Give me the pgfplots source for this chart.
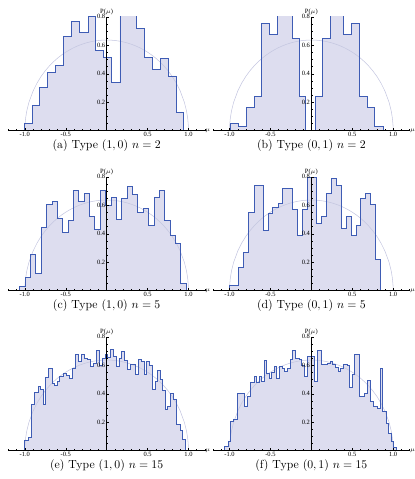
\documentclass[border=0pt]{standalone}
\usepackage{fontspec}
\usepackage{pgfplots}
\pgfplotsset{compat=1.18}
\usepackage{pgfplotstable}
\newfontfamily\tickfont{Liberation Serif}
\definecolor{histfill}{RGB}{221,221,239}
\definecolor{histline}{RGB}{62,92,180}
\definecolor{semic}{RGB}{196,198,224}

% Wigner semicircle
\pgfplotstableread{
x y
-1.0 0
-0.998 0.0402
-0.99 0.0898
-0.975 0.1415
-0.95 0.1988
-0.9 0.2775
-0.85 0.3354
-0.8 0.3820
-0.75 0.4211
-0.7 0.4546
-0.65 0.4838
-0.6 0.5093
-0.55 0.5317
-0.5 0.5513
-0.45 0.5685
-0.4 0.5835
-0.35 0.5964
-0.3 0.6073
-0.25 0.6164
-0.2 0.6238
-0.15 0.6294
-0.1 0.6334
-0.05 0.6358
0 0.6366
0.05 0.6358
0.1 0.6334
0.15 0.6294
0.2 0.6238
0.25 0.6164
0.3 0.6073
0.35 0.5964
0.4 0.5835
0.45 0.5685
0.5 0.5513
0.55 0.5317
0.6 0.5093
0.65 0.4838
0.7 0.4546
0.75 0.4211
0.8 0.3820
0.85 0.3354
0.9 0.2775
0.95 0.1988
0.975 0.1415
0.99 0.0898
0.998 0.0402
1.0 0
}\semi

% (a) Type (1,0) n=2
\pgfplotstableread{
x y
-1.0 0
-1.0 0.051
-0.910 0.178
-0.816 0.304
-0.722 0.407
-0.624 0.458
-0.531 0.664
-0.429 0.767
-0.327 0.690
-0.224 0.800
-0.135 0.566
-0.033 0.512
0.061 0.337
0.163 0.850
0.265 0.850
0.359 0.716
0.457 0.512
0.559 0.433
0.653 0.508
0.755 0.384
0.849 0.126
0.939 0.126
0.939 0
}\dA

% (b) Type (0,1) n=2
\pgfplotstableread{
x y
-0.984 0
-0.984 0.051
-0.890 0.028
-0.793 0.161
-0.699 0.239
-0.606 0.753
-0.508 0.676
-0.415 0.850
-0.321 0.850
-0.232 0.648
-0.142 0.243
-0.069 0
0.045 0.243
0.134 0.648
0.236 0.850
0.317 0.850
0.398 0.676
0.492 0.753
0.589 0.239
0.683 0.161
0.776 0.028
0.878 0.028
0.878 0
}\dB

% (c) Type (1,0) n=5
\pgfplotstableread{
x y
-1.061 0
-1.061 0.028
-0.995 0.091
-0.930 0.256
-0.864 0.122
-0.799 0.443
-0.733 0.608
-0.667 0.626
-0.602 0.504
-0.536 0.411
-0.471 0.490
-0.405 0.706
-0.339 0.626
-0.274 0.685
-0.208 0.518
-0.143 0.429
-0.077 0.706
-0.011 0.600
0.054 0.655
0.120 0.497
0.185 0.645
0.251 0.732
0.317 0.673
0.382 0.551
0.448 0.580
0.513 0.457
0.579 0.655
0.645 0.706
0.710 0.490
0.776 0.385
0.841 0.333
0.907 0.047
0.973 0.047
0.973 0
}\dC

% (d) Type (0,1) n=5
\pgfplotstableread{
x y
-1.004 0
-1.004 0.035
-0.890 0.164
-0.829 0.267
-0.768 0.551
-0.699 0.739
-0.588 0.420
-0.526 0.545
-0.470 0.587
-0.404 0.615
-0.356 0.720
-0.234 0.573
-0.173 0.385
-0.112 0.573
-0.051 0.798
0.059 0.469
0.124 0.521
0.181 0.685
0.246 0.791
0.309 0.739
0.370 0.439
0.431 0.521
0.492 0.387
0.553 0.455
0.602 0.650
0.663 0.685
0.724 0.608
0.785 0.220
0.846 0.220
0.846 0
}\dD

% (e) Type (1,0) n=15
\pgfplotstableread{
x y
-1.000 0
-1.000 0.070
-0.959 0.091
-0.918 0.321
-0.878 0.411
-0.837 0.450
-0.808 0.427
-0.776 0.321
-0.743 0.514
-0.706 0.580
-0.665 0.474
-0.633 0.457
-0.604 0.486
-0.571 0.521
-0.531 0.544
-0.490 0.528
-0.449 0.509
-0.416 0.580
-0.380 0.678
-0.339 0.626
-0.306 0.673
-0.273 0.645
-0.233 0.638
-0.196 0.591
-0.163 0.615
-0.122 0.701
-0.090 0.598
-0.049 0.650
-0.020 0.673
0.008 0.655
0.041 0.708
0.082 0.662
0.114 0.591
0.151 0.650
0.184 0.697
0.220 0.631
0.253 0.568
0.286 0.603
0.318 0.608
0.355 0.537
0.388 0.638
0.420 0.626
0.457 0.533
0.490 0.626
0.522 0.598
0.559 0.427
0.592 0.486
0.620 0.561
0.653 0.497
0.686 0.420
0.714 0.286
0.747 0.310
0.784 0.404
0.816 0.357
0.857 0.181
0.898 0.145
0.931 0.075
0.967 0.075
0.967 0
}\dE

% (f) Type (0,1) n=15
\pgfplotstableread{
x y
-1.065 0
-1.065 0.028
-1.016 0.063
-0.983 0.204
-0.951 0.216
-0.902 0.404
-0.812 0.310
-0.780 0.380
-0.748 0.479
-0.699 0.521
-0.674 0.479
-0.638 0.521
-0.609 0.486
-0.577 0.631
-0.544 0.545
-0.516 0.510
-0.483 0.549
-0.455 0.591
-0.422 0.510
-0.394 0.591
-0.353 0.580
-0.325 0.556
-0.293 0.580
-0.260 0.638
-0.232 0.702
-0.191 0.650
-0.150 0.638
-0.122 0.600
-0.089 0.520
-0.049 0.662
0.033 0.486
0.073 0.702
0.126 0.603
0.195 0.615
0.236 0.626
0.264 0.603
0.297 0.584
0.329 0.556
0.358 0.580
0.398 0.608
0.439 0.600
0.467 0.443
0.500 0.533
0.533 0.678
0.589 0.380
0.654 0.404
0.683 0.490
0.724 0.345
0.764 0.310
0.805 0.298
0.846 0.580
0.874 0.274
0.915 0.193
0.947 0.122
0.980 0.063
1.008 0.021
1.037 0.021
1.037 0
}\dF

\pgfplotsset{
  panel/.style={
    scale only axis, width=166.9pt, height=96.8pt,
    anchor=south west,
    xmin=-1.2, xmax=1.2, ymin=0, ymax=0.8,
    axis lines=middle, axis line style={-, line width=0.45pt},
    axis on top,
    xtick={-1,-0.5,0,0.5,1}, xticklabels={-1.0,-0.5,,0.5,1.0},
    ytick={0.2,0.4,0.6,0.8}, yticklabels={0.2,0.4,0.6,0.8},
    minor xtick={-1.2,-1.1,...,1.2},
    minor ytick={0.05,0.1,...,0.8},
    tick align=inside,
    major tick length=2.4pt, minor tick length=1.3pt,
    tick style={line width=0.3pt, black},
    ticklabel style={font=\tickfont\fontsize{5.5}{6}\selectfont, inner sep=1pt},
    xlabel={$\mu$}, ylabel={P($\mu$)},
    label style={font=\tickfont\fontsize{5.5}{6}\selectfont, inner sep=1pt},
    xlabel style={at={(current axis.right of origin)}, anchor=west, inner sep=0.2pt},
    ylabel style={at={(current axis.above origin)}, anchor=south, rotate=0},
    title style={at={(0.5,0)}, anchor=north, yshift=-10.5pt, font=\normalsize},
  },
  hfill/.style={const plot, fill=histfill, draw=none, forget plot},
  hline/.style={const plot, draw=histline, line width=0.8pt, forget plot},
  semi/.style={draw=semic, line width=0.45pt, forget plot},
}

\begin{document}
\begin{tikzpicture}
\useasboundingbox (0,0) rectangle (352.75pt,407.15pt);

\begin{axis}[panel, at={(7.2pt,296.1pt)}, title={(a) Type $(1,0)$ $n=2$}]
\addplot[hfill] table {\dA};
\addplot[semi] table {\semi};
\addplot[hline] table {\dA};
\end{axis}

\begin{axis}[panel, at={(181.2pt,296.1pt)}, title={(b) Type $(0,1)$ $n=2$}]
\addplot[hfill] table {\dB};
\addplot[semi] table {\semi};
\addplot[hline] table {\dB};
\end{axis}

\begin{axis}[panel, at={(7.2pt,160.1pt)}, title={(c) Type $(1,0)$ $n=5$}]
\addplot[hfill] table {\dC};
\addplot[semi] table {\semi};
\addplot[hline] table {\dC};
\end{axis}

\begin{axis}[panel, at={(181.2pt,160.1pt)}, title={(d) Type $(0,1)$ $n=5$}]
\addplot[hfill] table {\dD};
\addplot[semi] table {\semi};
\addplot[hline] table {\dD};
\end{axis}

\begin{axis}[panel, at={(7.2pt,24.1pt)}, title={(e) Type $(1,0)$ $n=15$}]
\addplot[hfill] table {\dE};
\addplot[semi] table {\semi};
\addplot[hline] table {\dE};
\end{axis}

\begin{axis}[panel, at={(181.2pt,24.1pt)}, title={(f) Type $(0,1)$ $n=15$}]
\addplot[hfill] table {\dF};
\addplot[semi] table {\semi};
\addplot[hline] table {\dF};
\end{axis}
\end{tikzpicture}
\end{document}
